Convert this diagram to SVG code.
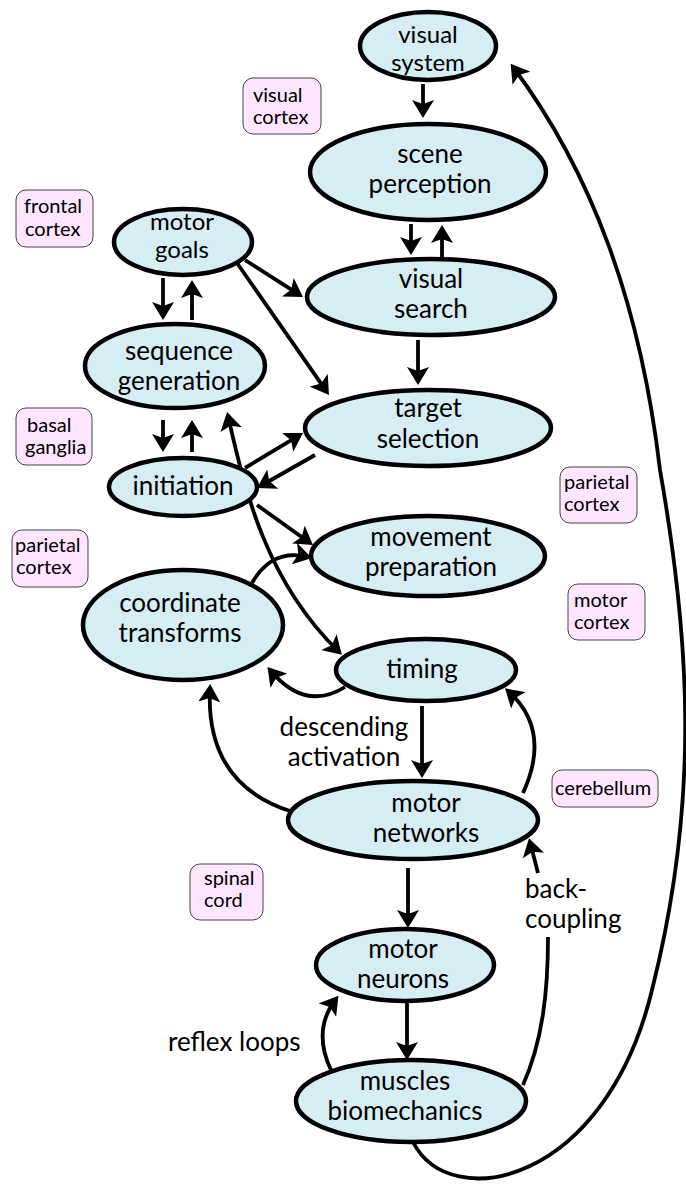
<svg xmlns="http://www.w3.org/2000/svg" width="686" height="1184" viewBox="0 0 686 1184">
<style>
.node ellipse{fill:#d6edf3;stroke:#000;stroke-width:4.5}
.node text{font-family:Lato,"Open Sans","Liberation Sans",sans-serif;font-size:26px;fill:#000;text-anchor:middle}
.node text.sm{font-size:24px}
.area rect{fill:#ffe6ff;stroke:#444;stroke-width:1}
.area text{font-family:Lato,"Open Sans","Liberation Sans",sans-serif;font-size:20px;fill:#000}
.edge{fill:none;stroke:#000;stroke-width:3.8;marker-end:url(#ah)}
.lbl{font-family:Lato,"Open Sans","Liberation Sans",sans-serif;font-size:26px;fill:#000}
</style>
<defs>
<marker id="ah" markerUnits="userSpaceOnUse" markerWidth="18" markerHeight="22" refX="14" refY="11" orient="auto-start-reverse" viewBox="0 0 18 22">
<path d="M0,0 L18,11 L0,22 L4,11 Z" fill="#000"/>
</marker>
</defs>

<g id="areas" class="area">
<g id="area-visual-cortex"><rect x="243" y="78" width="78" height="56" rx="10"/><text x="253" y="102">visual</text><text x="253" y="124">cortex</text></g>
<g id="area-frontal-cortex"><rect x="16" y="190" width="77" height="57" rx="10"/><text x="24" y="213">frontal</text><text x="25" y="236">cortex</text></g>
<g id="area-basal-ganglia"><rect x="16" y="408" width="76" height="57" rx="10"/><text x="27" y="432">basal</text><text x="25" y="454">ganglia</text></g>
<g id="area-parietal-right"><rect x="560" y="467" width="77" height="56" rx="10"/><text x="564" y="489">parietal</text><text x="564" y="511">cortex</text></g>
<g id="area-parietal-left"><rect x="12" y="530" width="76" height="57" rx="10"/><text x="15" y="552">parietal</text><text x="16" y="574">cortex</text></g>
<g id="area-motor-cortex"><rect x="568" y="584" width="77" height="56" rx="10"/><text x="574" y="607">motor</text><text x="574" y="629">cortex</text></g>
<g id="area-cerebellum"><rect x="552" y="770" width="106" height="37" rx="10"/><text x="555" y="795">cerebellum</text></g>
<g id="area-spinal-cord"><rect x="190" y="864" width="73" height="56" rx="10"/><text x="204" y="885">spinal</text><text x="204" y="907">cord</text></g>
</g>

<g id="connectors">
<path class="edge" d="M423 84 L423 114"/>
<path class="edge" d="M411 224 L411 251"/>
<path class="edge" d="M442 258 L442 229"/>
<path class="edge" d="M418 340 L418 381"/>
<path class="edge" d="M245 260 L299.6 294.8"/>
<path class="edge" d="M237 263 L326.7 391.7"/>
<path class="edge" d="M163 278 L163 316"/>
<path class="edge" d="M192 320 L192 284"/>
<path class="edge" d="M163 420 L163 448"/>
<path class="edge" d="M192 452 L192 424"/>
<path class="edge" d="M245 468 L299.6 435.1"/>
<path class="edge" d="M315 455 L260.5 486"/>
<path class="edge" d="M257 505 L309.7 542.7"/>
<path class="edge" d="M252 583 Q272 548 308 557"/>
<path class="edge" style="marker-start:url(#ah)" d="M228 416 C245 490 265 580 339 652"/>
<path class="edge" d="M345 687 Q305 712 270 670"/>
<path class="edge" d="M293 812 Q205 785 210 688"/>
<path class="edge" d="M422 706 L422 774"/>
<path class="edge" d="M523 793 Q552 730 508 691"/>
<path class="edge" d="M408 868 L408 924"/>
<path class="edge" d="M407 1003 L407 1056"/>
<path class="edge" d="M331 1070 Q312 1030 336 999"/>
<path class="edge" style="marker-end:none" d="M523 1085 C543 1040 548 990 548 937"/>
<path class="edge" d="M538 873 L530 842"/>
<path class="edge" d="M413 1142 C450 1215 605 1185 652 990 C700 800 690 640 660 470 C640 300 590 170 513 67"/>
</g>

<g id="edge-labels" class="lbl">
<text x="344" y="736" text-anchor="middle">descending</text>
<text x="344" y="766" text-anchor="middle">activation</text>
<text x="525" y="898">back-</text>
<text x="525" y="928">coupling</text>
<text x="168" y="1051">reflex loops</text>
</g>

<g id="visual-system" class="node"><ellipse cx="428" cy="46" rx="68" ry="34"/><text class="sm" x="428" y="43">visual</text><text class="sm" x="428" y="71">system</text></g>
<g id="scene-perception" class="node"><ellipse cx="428" cy="172" rx="118" ry="48"/><text x="430" y="163">scene</text><text x="430" y="193">perception</text></g>
<g id="motor-goals" class="node"><ellipse cx="183" cy="242" rx="69" ry="33"/><text class="sm" x="182" y="230">motor</text><text class="sm" x="182" y="258">goals</text></g>
<g id="visual-search" class="node"><ellipse cx="431" cy="297" rx="124" ry="38"/><text x="431" y="288">visual</text><text x="431" y="318">search</text></g>
<g id="sequence-generation" class="node"><ellipse cx="175" cy="366" rx="90" ry="42"/><text x="179" y="360">sequence</text><text x="179" y="390">generation</text></g>
<g id="target-selection" class="node"><ellipse cx="428" cy="428" rx="123" ry="38"/><text x="428" y="417">target</text><text x="428" y="448">selection</text></g>
<g id="initiation" class="node"><ellipse cx="183" cy="487" rx="74" ry="29"/><text x="183" y="495">initiation</text></g>
<g id="movement-preparation" class="node"><ellipse cx="428" cy="556" rx="117" ry="40"/><text x="431" y="546">movement</text><text x="431" y="576">preparation</text></g>
<g id="coordinate-transforms" class="node"><ellipse cx="183" cy="625" rx="100" ry="55"/><text x="180" y="612">coordinate</text><text x="180" y="642">transforms</text></g>
<g id="timing" class="node"><ellipse cx="426" cy="670" rx="90" ry="31"/><text x="422" y="678">timing</text></g>
<g id="motor-networks" class="node"><ellipse cx="413" cy="820" rx="125" ry="39"/><text x="426" y="812">motor</text><text x="426" y="842">networks</text></g>
<g id="motor-neurons" class="node"><ellipse cx="405" cy="965" rx="89" ry="36"/><text x="403" y="958">motor</text><text x="403" y="988">neurons</text></g>
<g id="muscles-biomechanics" class="node"><ellipse cx="411" cy="1101" rx="115" ry="41"/><text x="405" y="1090">muscles</text><text x="405" y="1120">biomechanics</text></g>
</svg>
